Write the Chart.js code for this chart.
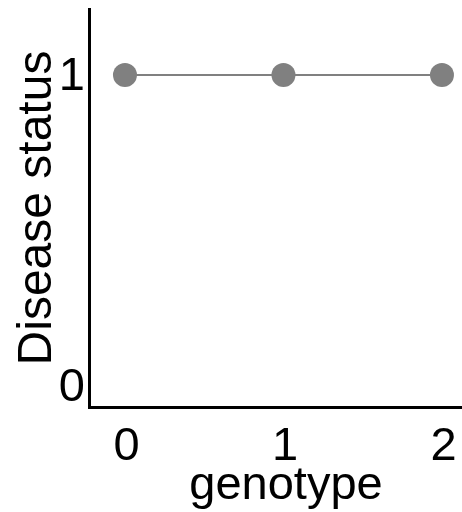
<!DOCTYPE html>
<html>
<head>
<meta charset="utf-8">
<script src="https://cdn.jsdelivr.net/npm/chart.js@4/dist/chart.umd.min.js"></script>
<style>
  html, body { margin: 0; padding: 0; background: #ffffff; overflow: hidden; width: 462px; height: 512px; }
  canvas { display: block; }
</style>
</head>
<body>
<canvas id="c" width="483" height="512" style="width:483px;height:512px"></canvas>
<script>
const genotypes = [0, 1, 2];
const diseaseStatus = [1, 1, 1];
const xTickValues = [0, 1, 2];
const yTickValues = [0, 1];
const xTitle = 'genotype';
const yTitle = 'Disease status';

const FONT = '"Liberation Sans", Arial, Helvetica, sans-serif';

function noPad(s) { s.paddingTop = 0; s.paddingBottom = 0; s.paddingLeft = 0; s.paddingRight = 0; }

new Chart(document.getElementById('c'), {
  type: 'line',
  data: {
    datasets: [{
      data: genotypes.map((g, i) => ({ x: g, y: diseaseStatus[i] })),
      borderColor: '#808080',
      borderWidth: 2,
      backgroundColor: '#808080',
      pointBackgroundColor: '#808080',
      pointBorderWidth: 0,
      pointRadius: 12,
      pointHoverRadius: 12,
      tension: 0,
      clip: false
    }]
  },
  options: {
    responsive: false,
    animation: false,
    devicePixelRatio: 1,
    events: [],
    layout: { autoPadding: false, padding: { top: 9, right: 0, bottom: 0, left: 0 } },
    plugins: { legend: { display: false }, tooltip: { enabled: false } },
    scales: {
      x: {
        type: 'linear',
        min: -0.227,
        max: 2.259,
        afterBuildTicks: s => { s.ticks = xTickValues.map(v => ({ value: v })); },
        afterFit: s => { s.height = 105; noPad(s); },
        grid: { display: false, drawTicks: false },
        border: { display: true, color: '#000000', width: 3 },
        ticks: {
          color: '#000000',
          padding: 16.5,
          labelOffset: 1.5,
          font: { family: FONT, size: 47, lineHeight: 1 },
          callback: v => String(v)
        },
        title: {
          display: true,
          text: xTitle,
          color: '#000000',
          padding: { top: 0, bottom: 2 },
          font: { family: FONT, size: 47, lineHeight: 1 }
        }
      },
      y: {
        type: 'linear',
        min: -0.0675,
        max: 1.212,
        afterBuildTicks: s => { s.ticks = yTickValues.map(v => ({ value: v })); },
        afterFit: s => { s.width = 89; noPad(s); },
        grid: { display: false, drawTicks: false },
        border: { display: true, color: '#000000', width: 3 },
        ticks: {
          color: '#000000',
          padding: 4,
          labelOffset: 2.5,
          font: { family: FONT, size: 47, lineHeight: 1 },
          callback: v => String(v)
        },
        title: {
          display: true,
          text: yTitle,
          color: '#000000',
          padding: { top: 14, bottom: 0 },
          font: { family: FONT, size: 48, lineHeight: 1 }
        }
      }
    }
  }
});
</script>
</body>
</html>
